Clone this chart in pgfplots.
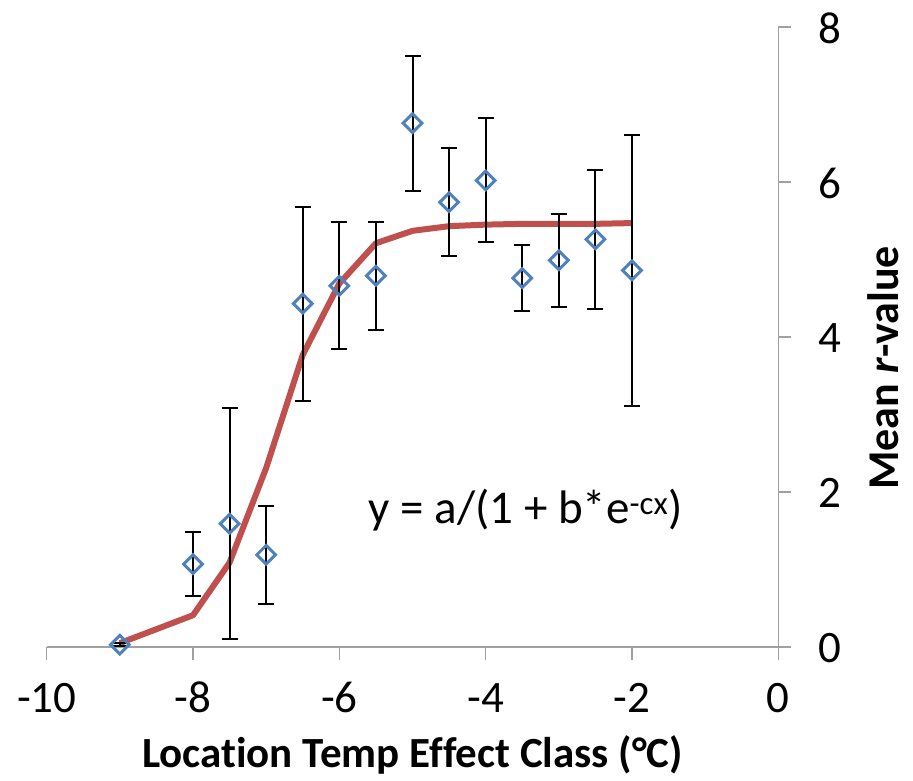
\documentclass[border=0pt]{standalone}
\usepackage{pgfplots}
\pgfplotsset{compat=1.18}
\usepackage{pgfplotstable}
\usepackage{fontspec}
\setmainfont[Ligatures={NoCommon}]{Carlito}
\definecolor{axgray}{RGB}{160,160,160}
\definecolor{mkblue}{RGB}{79,129,189}
\definecolor{fitred}{RGB}{192,80,77}

\pgfplotstableread{
x y err
-9 0.03 0.02
-8 1.07 0.41
-7.5 1.59 1.49
-7 1.19 0.63
-6.5 4.43 1.25
-6 4.66 0.82
-5.5 4.79 0.70
-5 6.76 0.87
-4.5 5.74 0.70
-4 6.02 0.80
-3.5 4.76 0.43
-3 4.99 0.60
-2.5 5.26 0.90
-2 4.86 1.75
}\obsdata

\pgfplotstableread{
x y
-9 0.05
-8 0.41
-7.5 1.09
-7 2.31
-6.5 3.77
-6 4.69
-5.5 5.21
-5 5.37
-4.5 5.43
-4 5.45
-3.5 5.46
-3 5.46
-2.5 5.46
-2 5.47
}\fitdata

\begin{document}
\begin{tikzpicture}
\useasboundingbox (-46.7bp,-134bp) rectangle (866.3bp,647bp);
\begin{axis}[
  scale only axis,
  width=731.6bp, height=620bp,
  xmin=-10, xmax=0, ymin=0, ymax=8,
  axis x line=bottom, axis y line=right,
  axis line style={-, axgray, line width=1.5bp},
  xtick={-10,-8,-6,-4,-2,0},
  ytick={0,2,4,6,8},
  tick align=outside,
  major tick length=13bp,
  tick style={axgray, line width=1.5bp},
  /pgf/number format/assume math mode=true,
  ticklabel style={font=\fontsize{45bp}{54bp}\selectfont, inner sep=0pt},
  xticklabel style={anchor=base, yshift=-52bp},
  yticklabel style={anchor=west, xshift=27bp, yshift=-1bp},
  clip=false,
]
\addplot[fitred, line width=6bp, line join=round, no markers] table[x=x,y=y] {\fitdata};
\addplot[
  only marks, mark=square, mark size=6.6bp,
  mark options={rotate=45, draw=mkblue, fill=white, line width=3bp},
  error bars/.cd, y dir=both, y explicit,
  error bar style={black, line width=2bp},
  error mark options={black, line width=2bp, mark size=8bp, rotate=90},
] table[x=x, y=y, y error=err] {\obsdata};
\node[anchor=base west, font=\fontsize{47bp}{56bp}\selectfont, inner sep=0pt] at (axis cs:-5.6,1.60) {y = a/(1 + b*e\textsuperscript{-cx})};
\node[anchor=base, font=\fontsize{43bp}{52bp}\selectfont\bfseries, inner sep=0pt] at (axis description cs:0.5,-0.194) {Location Temp Effect Class (°C)};
\node[anchor=base, rotate=90, font=\fontsize{44bp}{52bp}\selectfont\bfseries, inner sep=0pt] at (axis description cs:1.1637,0.45) {Mean \textit{r}-value};
\end{axis}
\end{tikzpicture}
\end{document}
